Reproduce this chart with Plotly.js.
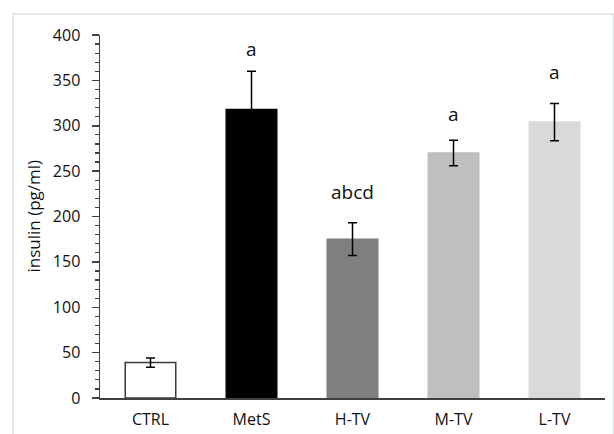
<!DOCTYPE html>
<html>
<head>
<meta charset="utf-8">
<script src="https://cdn.plot.ly/plotly-3.0.1.min.js"></script>
<style>
  html, body { margin: 0; padding: 0; background: #ffffff; }
  #chart { width: 614px; height: 434px; }
</style>
</head>
<body>
<div id="chart"></div>
<script>
var groups = ['CTRL', 'MetS', 'H-TV', 'M-TV', 'L-TV'];
var insulinMean = [39, 318, 175, 270, 304];
var insulinErr = [5, 42, 18, 14, 20.5];
var sigLetters = ['', 'a', 'abcd', 'a', 'a'];

var barColors = ['#ffffff', '#000000', '#7f7f7f', '#bfbfbf', '#d9d9d9'];
var lineColors = ['#3a3a3a', '#000000', '#7f7f7f', '#bfbfbf', '#d9d9d9'];
var letterY = [0, 385, 227, 313, 359];

var FONT = '"Open Sans", "Liberation Sans", sans-serif';

var trace = {
  type: 'bar',
  x: groups,
  y: insulinMean,
  marker: { color: barColors, line: { color: lineColors, width: 1.5 } },
  error_y: { type: 'data', array: insulinErr, visible: true, color: '#000000', thickness: 1.5, width: 4.5 },
  hoverinfo: 'x+y'
};

var annotations = [];
for (var i = 0; i < groups.length; i++) {
  if (!sigLetters[i]) continue;
  annotations.push({
    x: groups[i], y: letterY[i], xref: 'x', yref: 'y',
    text: sigLetters[i], showarrow: false, yanchor: 'middle',
    font: { family: FONT, size: 19, color: '#111111' }
  });
}
annotations.push({
  xref: 'paper', yref: 'paper', x: (33 - 100) / 505, y: 0.5,
  text: 'insulin (pg/ml)', textangle: -90, showarrow: false,
  xanchor: 'center', yanchor: 'middle',
  font: { family: FONT, size: 17, color: '#111111' }
});

var layout = {
  width: 614, height: 434,
  margin: { l: 100, r: 9, t: 35, b: 36 },
  paper_bgcolor: '#ffffff', plot_bgcolor: '#ffffff',
  showlegend: false,
  bargap: 0.5,
  font: { family: FONT, size: 16, color: '#111111' },
  xaxis: {
    type: 'category',
    showline: true, linecolor: '#404040', linewidth: 1.5,
    ticks: '', showgrid: false, zeroline: false,
    tickfont: { family: FONT, size: 16, color: '#111111' },
    ticklabelstandoff: 6
  },
  yaxis: {
    range: [0, 400], dtick: 50, tick0: 0,
    showline: true, linecolor: '#404040', linewidth: 1.5,
    ticks: 'outside', ticklen: 7, tickwidth: 1.5, tickcolor: '#404040',
    minor: { dtick: 10, ticks: 'outside', ticklen: 4, tickwidth: 1.2, tickcolor: '#404040', showgrid: false },
    showgrid: false, zeroline: false,
    tickfont: { family: FONT, size: 16, color: '#111111' },
    ticklabelstandoff: 8
  },
  annotations: annotations,
  shapes: [{
    type: 'rect', xref: 'paper', yref: 'paper', layer: 'below',
    x0: (13 - 100) / 505, x1: (613.5 - 100) / 505,
    y0: -0.3, y1: 1 + (35 - 14) / 363,
    line: { color: '#dde1e6', width: 1.5 }, fillcolor: 'rgba(0,0,0,0)'
  }]
};

Plotly.newPlot('chart', [trace], layout, { displayModeBar: false, staticPlot: true });
</script>
</body>
</html>
